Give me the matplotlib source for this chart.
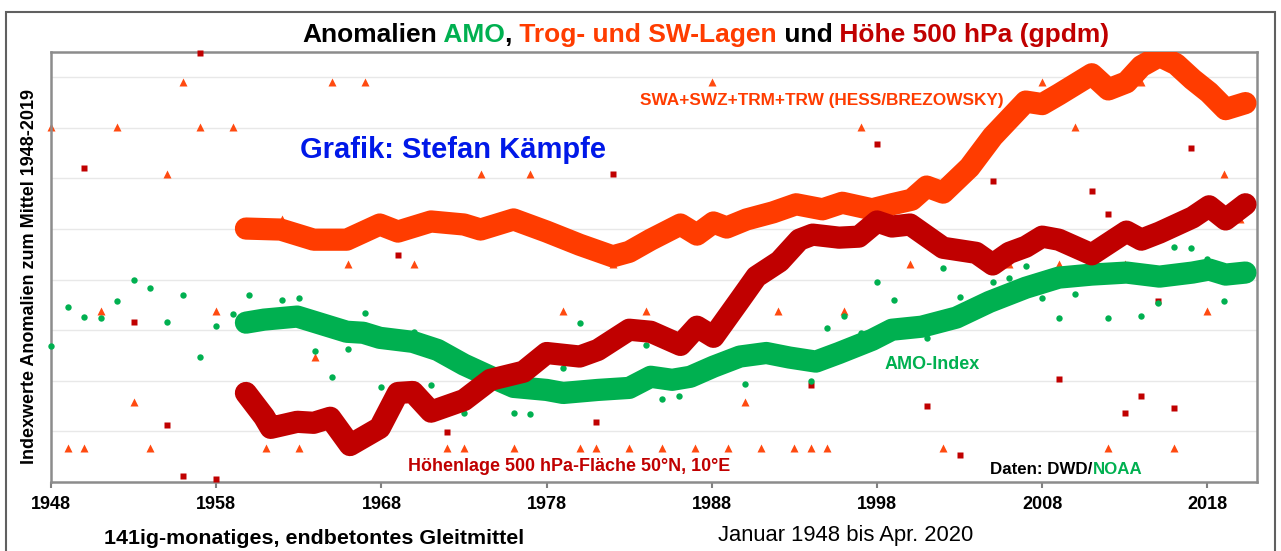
import numpy as np
import matplotlib
matplotlib.use('Agg')
import matplotlib.pyplot as plt
from matplotlib.patches import Rectangle

plt.rcParams['font.family'] = ['Liberation Sans', 'DejaVu Sans']

orange = '#FF3C00'
darkred = '#C00000'
green = '#00B050'
nan = np.nan

# annual values 1948-2020 (anomalies, index units)
years = np.arange(1948, 2021)
trog_year = [3.02, -3.32, -3.32, -0.61, 3.02, -2.41, -3.32, 2.09, 3.91, 3.02,
             -0.61, 3.02, nan, -3.32, 1.20, -3.32, -1.52, 3.91, 0.30, 3.91,
             1.20, nan, 0.30, 1.20, -3.32, -3.32, 2.09, nan, -3.32, 2.09,
             nan, -0.61, -3.32, -3.32, 0.30, -3.32, -0.61, -3.32, 1.20, -3.32,
             3.91, -3.32, -2.41, -3.32, -0.61, -3.32, -3.32, -3.32, -0.61, 3.02,
             nan, nan, 0.30, nan, -3.32, -0.61, nan, 3.02, 0.30, nan,
             3.91, 0.30, 3.02, nan, -3.32, 0.30, 3.91, nan, -3.32, nan,
             -0.61, 2.09, 1.20]
hoehe_year = [nan, nan, 2.21, nan, nan, -0.83, nan, -2.87, -3.88, 4.48,
              -3.95, nan, nan, nan, nan, nan, nan, nan, nan, nan,
              nan, 0.48, nan, nan, -3.02, nan, nan, nan, -2.25, nan,
              nan, nan, nan, -2.81, 2.09, nan, nan, nan, nan, nan,
              nan, nan, nan, nan, nan, nan, -2.09, nan, nan, nan,
              2.69, nan, nan, -2.50, nan, -3.47, nan, 1.95, nan, nan,
              nan, -1.97, nan, 1.76, 1.29, -2.64, -2.30, -0.42, -2.54, 2.61,
              nan, nan, nan]
amo_year = [-1.32, -0.55, -0.73, -0.75, -0.43, 0.00, -0.17, -0.83, -0.31, -1.52,
            -0.91, -0.67, -0.31, -0.80, -0.41, -0.36, -1.41, -1.93, -1.37, -0.66,
            -2.13, -1.20, -1.04, -2.09, -1.55, -2.64, -1.95, -2.05, -2.64, -2.65,
            -1.32, -1.75, -0.86, -2.18, -2.15, -2.15, -1.29, -2.36, -2.30, -1.95,
            -1.75, -1.55, -2.07, -1.45, -1.55, -1.60, -2.01, -0.96, -0.71, -1.06,
            -0.05, -0.40, -0.93, -1.16, 0.23, -0.35, -0.45, -0.05, 0.03, 0.26,
            -0.36, -0.76, -0.28, 0.10, -0.75, 0.15, -0.71, -0.46, 0.65, 0.63,
            0.40, -0.43, nan]

# 141-month moving averages
trog_t = [1959.8, 1961.9, 1963.9, 1965.9, 1967.9, 1969.0, 1971.0, 1973.0, 1974.0, 1976.0,
          1978.0, 1980.0, 1982.0, 1983.0, 1984.3, 1986.1, 1987.1, 1988.1, 1988.9, 1990.1,
          1991.7, 1993.1, 1994.7, 1995.9, 1997.7, 1998.9, 2000.1, 2001.0, 2002.0, 2003.6,
          2005.0, 2007.0, 2008.0, 2009.0, 2011.0, 2012.0, 2013.1, 2014.0, 2015.1, 2016.1,
          2017.1, 2018.1, 2019.1, 2020.3]
trog_smooth = [1.01, 0.99, 0.79, 0.79, 1.09, 0.95, 1.15, 1.09, 0.99, 1.19,
               0.95, 0.69, 0.46, 0.55, 0.79, 1.09, 0.89, 1.13, 1.03, 1.19,
               1.33, 1.49, 1.39, 1.52, 1.39, 1.49, 1.58, 1.84, 1.72, 2.22,
               2.83, 3.52, 3.47, 3.66, 4.06, 3.76, 3.90, 4.22, 4.42, 4.26,
               3.96, 3.70, 3.37, 3.49]

hoehe_t = [1959.8, 1960.9, 1961.3, 1962.9, 1963.9, 1964.9, 1966.1, 1967.9, 1969.0, 1969.9,
           1971.0, 1973.0, 1974.6, 1976.6, 1978.0, 1980.0, 1981.1, 1983.0, 1984.3, 1986.1,
           1987.1, 1988.1, 1989.7, 1990.7, 1992.1, 1993.3, 1994.1, 1995.7, 1996.9, 1998.0,
           1998.9, 2000.0, 2002.0, 2004.0, 2005.0, 2006.0, 2007.0, 2008.0, 2009.0, 2011.0,
           2013.1, 2014.0, 2015.1, 2017.1, 2018.1, 2019.1, 2020.3]
hoehe_smooth = [-2.24, -2.71, -2.93, -2.81, -2.83, -2.73, -3.27, -2.93, -2.24, -2.22,
                -2.61, -2.38, -1.98, -1.82, -1.45, -1.52, -1.39, -0.99, -1.03, -1.29,
                -0.93, -1.13, -0.40, 0.06, 0.36, 0.79, 0.89, 0.83, 0.85, 1.15,
                1.05, 1.09, 0.63, 0.53, 0.30, 0.53, 0.65, 0.85, 0.79, 0.50,
                0.95, 0.79, 0.93, 1.23, 1.45, 1.19, 1.49]

amo_t = [1959.8, 1960.9, 1962.9, 1963.9, 1965.9, 1966.9, 1967.9, 1969.9, 1971.4, 1973.0,
         1974.6, 1976.0, 1978.0, 1979.0, 1981.1, 1983.0, 1984.3, 1985.6, 1986.7, 1988.1,
         1989.7, 1991.3, 1992.7, 1994.3, 1995.7, 1997.7, 1998.9, 2000.7, 2002.8, 2004.8,
         2007.0, 2009.0, 2011.0, 2013.1, 2015.1, 2017.1, 2018.1, 2019.1, 2020.3]
amo_smooth = [-0.85, -0.79, -0.73, -0.83, -1.03, -1.05, -1.15, -1.23, -1.39, -1.68,
              -1.92, -2.12, -2.18, -2.24, -2.18, -2.14, -1.92, -1.98, -1.92, -1.72,
              -1.52, -1.45, -1.54, -1.62, -1.45, -1.19, -0.99, -0.93, -0.75, -0.44,
              -0.16, 0.04, 0.10, 0.14, 0.06, 0.14, 0.20, 0.10, 0.14]

fig = plt.figure(figsize=(12.81, 5.51), dpi=100)
ax = fig.add_axes([51 / 1281, 1 - 482 / 551, 1206 / 1281, 430 / 551])

# yearly points
ax.plot(years, trog_year, ls='none', marker='^', ms=6.3, color='#FF4A10', mec='none', zorder=2, clip_on=False)
ax.plot(years, hoehe_year, ls='none', marker='s', ms=4.8, color=darkred, mec='none', zorder=3, clip_on=False)
ax.plot(years, amo_year, ls='none', marker='o', ms=4.6, color=green, mec='none', zorder=4, clip_on=False)

# smoothed lines
kw = dict(lw=16, solid_capstyle='round', solid_joinstyle='round')
ax.plot(trog_t, trog_smooth, color=orange, zorder=5, **kw)
ax.plot(amo_t, amo_smooth, color=green, zorder=6, **kw)
ax.plot(hoehe_t, hoehe_smooth, color=darkred, zorder=7, **kw)

ax.set_xlim(1948, 2021)
ax.set_ylim(-4, 4.5)
ax.set_yticks(range(-3, 5))
ax.set_yticklabels([])
ax.tick_params(axis='y', length=0)
ax.grid(axis='y', color='#E8E8E8', lw=1)
ax.set_axisbelow(True)
ax.set_xticks(range(1948, 2019, 10))
ax.tick_params(axis='x', direction='out', length=4, width=1.5, color='#808080', pad=6, labelsize=13)
for lab in ax.get_xticklabels():
    lab.set_fontweight('bold')
for sp in ax.spines.values():
    sp.set_color('#8C8C8C')
    sp.set_linewidth(1.8)

# labels inside the plot
ax.text(0.2065, 0.772, 'Grafik: Stefan Kämpfe', transform=ax.transAxes, color='#0018E8',
        fontsize=21, fontweight='bold', va='center', zorder=10)
ax.text(0.488, 0.888, 'SWA+SWZ+TRM+TRW (HESS/BREZOWSKY)', transform=ax.transAxes, color=orange,
        fontsize=12.4, fontweight='bold', va='center', zorder=10)
ax.text(0.691, 0.274, 'AMO-Index', transform=ax.transAxes, color=green,
        fontsize=13, fontweight='bold', va='center', zorder=10)
ax.text(0.296, 0.035, 'Höhenlage 500 hPa-Fläche 50°N, 10°E', transform=ax.transAxes, color=darkred,
        fontsize=12.9, fontweight='bold', va='center', zorder=10)
t = ax.text(0.779, 0.030, 'Daten: DWD/', transform=ax.transAxes, color='black',
            fontsize=12.2, fontweight='bold', va='center', zorder=10)
ax.annotate('NOAA', xycoords=t, xy=(1, 0), va='bottom', color=green,
            fontsize=12.2, fontweight='bold', zorder=10)

# multicoloured title
title_parts = [('Anomalien', 'black'), (' AMO', green), (',', 'black'),
               (' Trog- und SW-Lagen', orange), (' und', 'black'),
               (' Höhe 500 hPa (gpdm)', darkred)]
prev = fig.text(302 / 1281, 1 - 42 / 551, title_parts[0][0], color=title_parts[0][1],
                fontsize=19, fontweight='bold', va='baseline')
for s, c in title_parts[1:]:
    prev = ax.annotate(s, xycoords=prev, xy=(1, 0), va='bottom', color=c,
                       fontsize=19, fontweight='bold', annotation_clip=False)

fig.text(30 / 1281, 1 - 276 / 551, 'Indexwerte Anomalien zum Mittel 1948-2019', rotation=90,
         ha='center', va='center', fontsize=13, fontweight='bold')
fig.text(104 / 1281, 1 - 538 / 551, '141ig-monatiges, endbetontes Gleitmittel',
         ha='left', va='center', fontsize=15.4, fontweight='bold')
fig.text(718 / 1281, 1 - 536 / 551, 'Januar 1948 bis Apr. 2020',
         ha='left', va='center', fontsize=15.8)

# outer frame
fig.patches.append(Rectangle((6 / 1281, -0.01), 1269 / 1281, 1.01 - 12 / 551, transform=fig.transFigure,
                             fill=False, edgecolor='#606060', lw=1.5))

fig.savefig('out.png', dpi=100)
